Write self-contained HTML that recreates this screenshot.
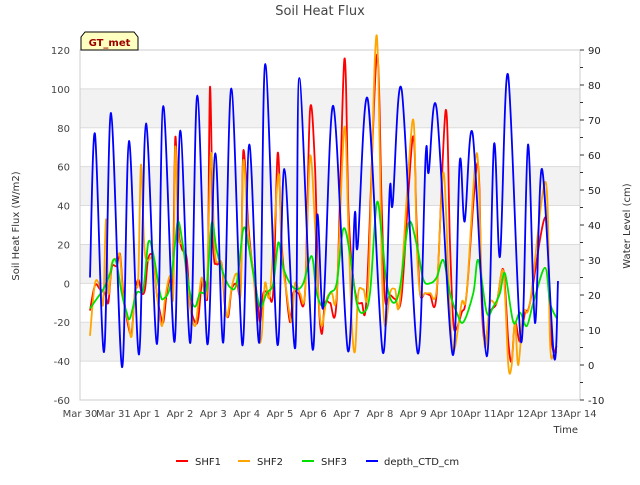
<!DOCTYPE html>
<html><head><meta charset="utf-8"><style>
body{margin:0;background:#fff;font-family:"Liberation Sans","DejaVu Sans",sans-serif;}
svg text{font-family:"DejaVu Sans","Liberation Sans",sans-serif;}
</style></head><body>
<svg id="chart" width="640" height="480" xmlns="http://www.w3.org/2000/svg"></svg>
<script>
const xTickLabels=["Mar 30","Mar 31","Apr 1","Apr 2","Apr 3","Apr 4","Apr 5","Apr 6","Apr 7","Apr 8","Apr 9","Apr 10","Apr 11","Apr 12","Apr 13","Apr 14"];
const leftTicks=[120,100,80,60,40,20,0,-20,-40,-60];
const rightTicks=[90,80,70,60,50,40,30,20,10,0,-10];
const shf1=[[0.3,-14],[0.45,-1],[0.6,-3],[0.75,-5],[0.85,-10],[0.95,8],[1.1,9],[1.2,15],[1.3,-5],[1.45,-22],[1.55,-25],[1.65,-5],[1.75,2],[1.85,-5],[1.95,-3],[2.05,13],[2.2,13],[2.3,-5],[2.4,-15],[2.5,-20],[2.6,-5],[2.7,2],[2.78,-3],[2.86,75],[2.95,30],[3.05,18],[3.2,13],[3.3,-10],[3.45,-20],[3.55,-18],[3.65,0],[3.75,1],[3.83,-2],[3.9,101],[4.0,20],[4.1,10],[4.25,10],[4.35,-12],[4.45,-17],[4.55,-3],[4.7,0],[4.82,-2],[4.9,68],[5.05,30],[5.15,12],[5.3,-5],[5.4,-20],[5.5,-5],[5.65,-5],[5.8,-4],[5.93,67],[6.05,20],[6.15,2],[6.3,-20],[6.4,-5],[6.55,-5],[6.75,-5],[6.9,89],[7.05,60],[7.15,-5],[7.25,-26],[7.35,-10],[7.5,-10],[7.7,-8],[7.93,115],[8.05,40],[8.15,10],[8.3,-8],[8.45,-10],[8.6,-6],[8.9,117],[9.05,40],[9.15,-8],[9.3,-6],[9.45,-8],[9.65,-6],[9.98,75],[10.1,30],[10.2,-5],[10.35,-5],[10.5,-6],[10.7,-5],[10.97,89],[11.1,20],[11.2,-20],[11.3,-23],[11.45,-15],[11.6,-5],[11.93,62],[12.05,-10],[12.15,-30],[12.3,-15],[12.5,-10],[12.7,7],[12.85,-30],[12.95,-40],[13.05,-20],[13.2,-30],[13.35,-15],[13.5,-10],[13.97,34],[14.1,-20],[14.2,-35],[14.3,-32]];
const shf2=[[0.3,-27],[0.45,0],[0.6,-2],[0.7,-10],[0.78,33],[0.85,-5],[0.95,10],[1.1,13],[1.2,14],[1.3,-8],[1.45,-20],[1.55,-27],[1.65,-3],[1.75,3],[1.83,61],[1.95,15],[2.2,13],[2.3,-5],[2.45,-22],[2.55,-8],[2.7,4],[2.8,-6],[2.86,70],[2.95,25],[3.1,18],[3.3,-12],[3.45,-22],[3.55,-10],[3.65,3],[3.8,-5],[3.93,67],[4.05,15],[4.25,10],[4.4,-17],[4.55,-2],[4.7,5],[4.82,-5],[4.9,63],[5.05,25],[5.2,5],[5.35,-27],[5.45,-27],[5.55,0],[5.7,-5],[5.95,56],[6.05,15],[6.2,-5],[6.35,-20],[6.45,0],[6.6,-5],[6.75,-5],[6.9,65],[7.05,30],[7.15,-5],[7.25,-22],[7.4,-8],[7.55,-5],[7.7,-5],[7.93,80],[8.05,30],[8.15,-20],[8.25,-35],[8.35,-5],[8.5,-3],[8.65,0],[8.85,117],[8.95,110],[9.05,10],[9.15,-22],[9.3,-5],[9.45,-3],[9.6,-8],[9.98,84],[10.1,20],[10.2,-5],[10.35,-5],[10.5,-5],[10.7,-3],[10.9,57],[11.05,5],[11.15,-30],[11.25,-33],[11.45,-10],[11.6,-5],[11.9,67],[12.05,0],[12.15,-33],[12.3,-10],[12.5,-10],[12.7,6],[12.85,-42],[12.95,-42],[13.05,-20],[13.15,-42],[13.3,-15],[13.5,-10],[13.97,52],[14.1,-30],[14.2,-37],[14.3,-35]];
const shf3=[[0.3,-13],[0.5,-8],[0.7,-3],[0.9,5],[1.0,12],[1.1,10],[1.25,-5],[1.4,-15],[1.5,-18],[1.7,-5],[1.9,-3],[2.05,21],[2.2,15],[2.4,-5],[2.5,-8],[2.7,-2],[2.85,20],[2.95,32],[3.1,18],[3.3,-5],[3.45,-12],[3.6,-5],[3.8,-2],[3.95,31],[4.1,17],[4.3,5],[4.5,-2],[4.7,0],[4.9,28],[5.05,20],[5.2,5],[5.4,-12],[5.6,-5],[5.8,0],[5.95,21],[6.1,8],[6.3,0],[6.5,-3],[6.7,0],[6.95,14],[7.1,-5],[7.3,-12],[7.5,-5],[7.7,0],[7.9,28],[8.1,15],[8.3,-10],[8.5,-15],[8.7,-5],[8.9,41],[9.05,25],[9.2,0],[9.4,-10],[9.6,-2],[9.86,31],[10.1,20],[10.3,2],[10.5,0],[10.7,3],[10.9,12],[11.1,-5],[11.3,-15],[11.5,-20],[11.8,-5],[11.95,12],[12.2,-15],[12.4,-12],[12.6,-5],[12.75,5],[13.0,-20],[13.2,-15],[13.4,-22],[13.6,-10],[13.95,8],[14.1,-10],[14.3,-18]];
const depth=[[0.3,25],[0.45,66],[0.72,3.7],[0.93,72],[1.26,-0.6],[1.47,64],[1.77,3],[1.98,69],[2.31,6],[2.5,74],[2.83,6.6],[3.01,67],[3.31,6.3],[3.52,77],[3.82,6],[4.06,60.5],[4.3,6.5],[4.54,79],[4.87,5.7],[5.08,63],[5.38,6.5],[5.56,86],[5.92,6],[6.13,56],[6.46,5],[6.58,82],[6.97,5],[7.12,43],[7.3,16.6],[7.6,74],[8.03,4.3],[8.24,43],[8.33,34],[8.63,76],[9.08,3.7],[9.29,50],[9.38,46],[9.65,78.6],[10.13,3.4],[10.37,60],[10.46,55],[10.7,73],[11.18,2.9],[11.39,58],[11.54,41],[11.78,66],[12.2,2.5],[12.42,63],[12.6,31],[12.84,83],[13.23,6.6],[13.44,63],[13.65,12],[13.86,56],[14.22,2.3],[14.34,24]];
const svg=document.getElementById('chart');const NS='http://www.w3.org/2000/svg';
const L=80,R=580,T=50,B=400;
const xs=t=>L+t*(R-L)/15;
const yl=v=>T+(120-v)*(B-T)/180;
const yr=v=>T+(90-v)*(B-T)/100;
function mk(tag,attrs,parent){const e=document.createElementNS(NS,tag);for(const k in attrs)e.setAttribute(k,attrs[k]);(parent||svg).appendChild(e);return e;}
function txt(s,attrs){const e=mk('text',attrs);e.textContent=s;return e;}
for(const [a,b] of [[100,80],[60,40],[20,0],[-20,-40]]){
const r=mk('rect',{x:L,y:yl(a),width:R-L,height:yl(b)-yl(a),fill:'#f2f2f2'});

}
for(const v of leftTicks){const g=mk('line',{x1:L,x2:R,y1:yl(v),y2:yl(v),stroke:'#dcdcdc','stroke-width':1});


const t=txt(String(v),{x:L-10,y:yl(v)+4,'text-anchor':'end','font-size':10,fill:'#444'});

}
mk('rect',{x:L,y:T,width:R-L,height:B-T,fill:'none',stroke:'#ccc'});
for(const v of rightTicks){const t=txt(String(v),{x:R+8,y:yr(v)+4,'font-size':10,fill:'#222'});


mk('line',{x1:R,x2:R+4,y1:yr(v),y2:yr(v),stroke:'#333'});
if(v>-10)mk('line',{x1:R,x2:R+3,y1:yr(v-5),y2:yr(v-5),stroke:'#333'});}
xTickLabels.forEach((s,i)=>{const t=txt(s,{x:xs(i),y:B+17,'text-anchor':'middle','font-size':10,fill:'#444'});

});
function line(data,yf,color,name){
const P=data.map(p=>[xs(p[0]),yf(p[1])]);
let d='M'+P[0][0].toFixed(1)+','+P[0][1].toFixed(1);
const k=0.5/3;
for(let i=0;i<P.length-1;i++){
const p0=P[Math.max(0,i-1)],p1=P[i],p2=P[i+1],p3=P[Math.min(P.length-1,i+2)];
const c1x=p1[0]+(p2[0]-p0[0])*k,c1y=p1[1]+(p2[1]-p0[1])*k;
const c2x=p2[0]-(p3[0]-p1[0])*k,c2y=p2[1]-(p3[1]-p1[1])*k;
d+=' C'+c1x.toFixed(1)+','+c1y.toFixed(1)+' '+c2x.toFixed(1)+','+c2y.toFixed(1)+' '+p2[0].toFixed(1)+','+p2[1].toFixed(1);}
const p=mk('path',{d:d,fill:'none',stroke:color,'stroke-width':1.8,'stroke-linejoin':'round'});

}
line(shf1,yl,'#ff0000','shf1-line');
line(shf2,yl,'#ffa500','shf2-line');
line(shf3,yl,'#00e000','shf3-line');
line(depth,yr,'#0000ff','depth-ctd-line');
</script>
<svg width="640" height="480" style="position:absolute;left:0;top:0" xmlns="http://www.w3.org/2000/svg">
<text x="320" y="15" text-anchor="middle" font-size="13" fill="#444">Soil Heat Flux</text>
<text x="19" y="226" transform="rotate(-90 19 226)" text-anchor="middle" font-size="10" fill="#333">Soil Heat Flux (W/m2)</text>
<text x="630" y="226" transform="rotate(-90 630 226)" text-anchor="middle" font-size="10" fill="#333">Water Level (cm)</text>
<text x="578" y="433" text-anchor="end" font-size="10" fill="#333">Time</text>
<g>
<path d="M81,50 L81,37 L85,32 L134,32 L138,37 L138,50 Z" fill="#ffffc0" stroke="#000"/>
<text x="109.5" y="46" text-anchor="middle" font-size="10" font-weight="bold" fill="#990000">GT_met</text></g>
<g font-size="10" fill="#222">
<line x1="176" x2="188" y1="461" y2="461" stroke="#ff0000" stroke-width="2"/><text x="195" y="465">SHF1</text>
<line x1="238" x2="250" y1="461" y2="461" stroke="#ffa500" stroke-width="2"/><text x="257" y="465">SHF2</text>
<line x1="302" x2="314" y1="461" y2="461" stroke="#00e000" stroke-width="2"/><text x="321" y="465">SHF3</text>
<line x1="366" x2="378" y1="461" y2="461" stroke="#0000ff" stroke-width="2"/><text x="384" y="465">depth_CTD_cm</text>
</g></svg>
</body></html>
